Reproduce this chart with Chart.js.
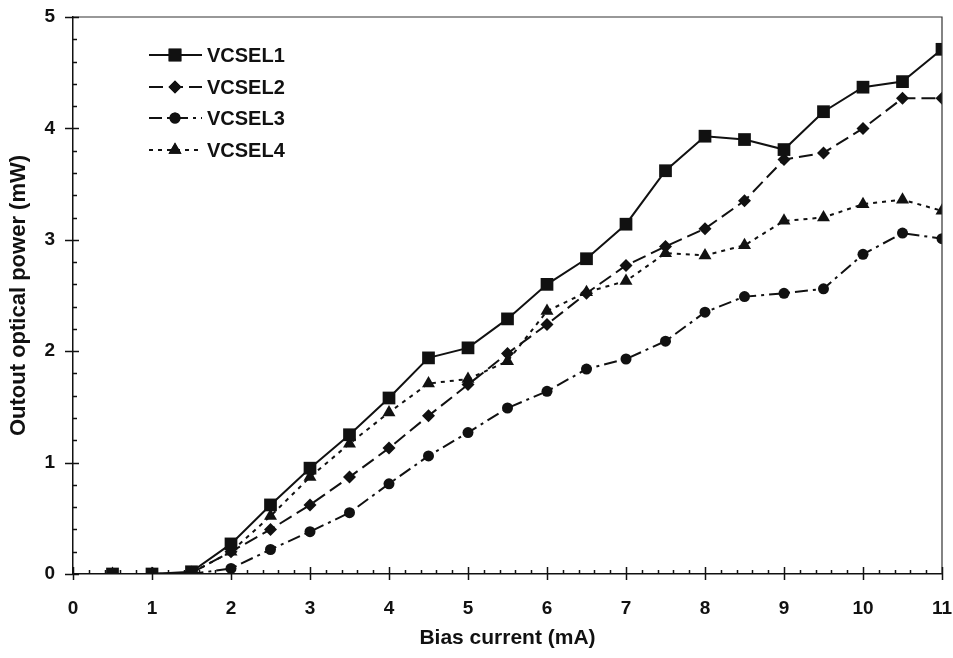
<!DOCTYPE html>
<html>
<head>
<meta charset="utf-8">
<script src="https://cdn.jsdelivr.net/npm/chart.js@4/dist/chart.umd.min.js"></script>
<style>
  html, body { margin: 0; padding: 0; background: #fff; }
  #wrap { width: 953px; height: 658px; }
</style>
</head>
<body>
<div id="wrap"><canvas id="powerChart" width="953" height="658"></canvas></div>
<script>
// Bias current (mA) points
const bias = [0.5, 1, 1.5, 2, 2.5, 3, 3.5, 4, 4.5, 5, 5.5, 6, 6.5, 7, 7.5, 8, 8.5, 9, 9.5, 10, 10.5, 11];

// Output optical power (mW)
const vcsel1 = [0, 0, 0.02, 0.27, 0.62, 0.95, 1.25, 1.58, 1.94, 2.03, 2.29, 2.6, 2.83, 3.14, 3.62, 3.93, 3.9, 3.81, 4.15, 4.37, 4.42, 4.71];
const vcsel2 = [0, 0, 0.01, 0.2, 0.4, 0.62, 0.87, 1.13, 1.42, 1.7, 1.98, 2.24, 2.52, 2.77, 2.94, 3.1, 3.35, 3.72, 3.78, 4.0, 4.27, 4.27];
const vcsel3 = [0, 0, 0, 0.05, 0.22, 0.38, 0.55, 0.81, 1.06, 1.27, 1.49, 1.64, 1.84, 1.93, 2.09, 2.35, 2.49, 2.52, 2.56, 2.87, 3.06, 3.01];
const vcsel4 = [0, 0, 0.01, 0.2, 0.52, 0.87, 1.17, 1.45, 1.71, 1.75, 1.91, 2.36, 2.53, 2.63, 2.88, 2.86, 2.95, 3.17, 3.2, 3.32, 3.36, 3.26];

const seriesNames = ['VCSEL1', 'VCSEL2', 'VCSEL3', 'VCSEL4'];
const seriesData = [vcsel1, vcsel2, vcsel3, vcsel4];

const xTicks = [0, 1, 2, 3, 4, 5, 6, 7, 8, 9, 10, 11];
const yTicks = [0, 1, 2, 3, 4, 5];

const styles = [
  { pointStyle: 'rect', radius: 9, dash: [] },
  { pointStyle: 'rectRot', radius: 6.5, dash: [14, 6] },
  { pointStyle: 'circle', radius: 5.5, dash: [13, 5, 3, 5] },
  { pointStyle: 'triangle', radius: 7.5, dash: [4, 5] }
];

const FONT = "'Liberation Sans', Arial, sans-serif";

const datasets = seriesNames.map((name, i) => ({
  label: name,
  data: bias.map((b, j) => ({ x: b, y: seriesData[i][j] })),
  borderColor: '#111',
  backgroundColor: '#111',
  borderWidth: 2,
  borderDash: styles[i].dash,
  pointStyle: styles[i].pointStyle,
  pointRadius: styles[i].radius,
  pointBorderWidth: 0,
  tension: 0,
  fill: false
}));

// frame + tick marks (major & minor), drawn from the scales
const frameTicks = {
  id: 'frameTicks',
  afterDraw(chart) {
    const { ctx, chartArea: a, scales } = chart;
    const xs = scales.x, ys = scales.y;
    ctx.save();
    ctx.strokeStyle = '#333';
    ctx.lineWidth = 1.2;
    ctx.beginPath();
    ctx.moveTo(a.left, a.top); ctx.lineTo(a.right, a.top); ctx.lineTo(a.right, a.bottom);
    ctx.stroke();
    ctx.strokeStyle = '#111';
    ctx.lineWidth = 1.5;
    ctx.beginPath();
    for (let v = 0; v <= 55; v++) {
      const px = Math.round(xs.getPixelForValue(v / 5)) + 0.5;
      if (v % 5 === 0) { ctx.moveTo(px, a.bottom + 6); ctx.lineTo(px, a.bottom - 7); }
      else { ctx.moveTo(px, a.bottom); ctx.lineTo(px, a.bottom - 4); }
    }
    for (let v = 0; v <= 25; v++) {
      const py = Math.round(ys.getPixelForValue(v / 5)) + 0.5;
      if (v % 5 === 0) { ctx.moveTo(a.left - 8, py); ctx.lineTo(a.left + 6, py); }
      else { ctx.moveTo(a.left, py); ctx.lineTo(a.left + 4, py); }
    }
    ctx.stroke();
    ctx.restore();
  }
};

// legend with line sample and marker in the middle
const sampleLegend = {
  id: 'sampleLegend',
  afterDatasetsDraw(chart) {
    const { ctx } = chart;
    const x0 = 149, x1 = 202, xm = 175, tx = 207;
    const rows = [55, 87, 118, 150];
    ctx.save();
    chart.data.datasets.forEach((ds, i) => {
      const y = rows[i];
      ctx.strokeStyle = '#111';
      ctx.lineWidth = 2;
      ctx.setLineDash(ds.borderDash);
      ctx.beginPath();
      ctx.moveTo(x0, y); ctx.lineTo(x1, y);
      ctx.stroke();
      ctx.setLineDash([]);
      ctx.fillStyle = '#111';
      Chart.helpers.drawPoint(ctx, { pointStyle: ds.pointStyle, radius: ds.pointRadius, borderWidth: 0, rotation: 0 }, xm, y);
      ctx.fill();
      ctx.font = 'bold 20px ' + FONT;
      ctx.textBaseline = 'middle';
      ctx.textAlign = 'left';
      ctx.fillText(ds.label, tx, y + 1);
    });
    ctx.restore();
  }
};

new Chart(document.getElementById('powerChart'), {
  type: 'line',
  data: { datasets },
  plugins: [frameTicks, sampleLegend],
  options: {
    responsive: false,
    animation: false,
    layout: { autoPadding: false, padding: { left: 0, top: 17, right: 11, bottom: 0 } },
    plugins: { legend: { display: false }, tooltip: { enabled: false } },
    scales: {
      x: {
        type: 'linear',
        min: 0, max: 11,
        afterBuildTicks: s => { s.ticks = xTicks.map(v => ({ value: v })); },
        afterFit: s => { s.height = 84; s.paddingLeft = 0; s.paddingRight = 0; },
        grid: { display: false },
        border: { display: true, color: '#111', width: 1.5 },
        ticks: { color: '#111', padding: 15, font: { family: FONT, size: 19, weight: 'bold' }, maxRotation: 0 },
        title: { display: true, text: 'Bias current (mA)', color: '#111', padding: 7, font: { family: FONT, size: 21, weight: 'bold' } }
      },
      y: {
        min: 0, max: 5,
        afterBuildTicks: s => { s.ticks = yTicks.map(v => ({ value: v })); },
        afterFit: s => { s.width = 73; s.paddingTop = 0; s.paddingBottom = 0; },
        grid: { display: false },
        border: { display: true, color: '#111', width: 1.5 },
        ticks: { color: '#111', padding: 10, font: { family: FONT, size: 19, weight: 'bold' } },
        title: { display: true, text: 'Outout optical power (mW)', color: '#111', padding: 6, font: { family: FONT, size: 22, weight: 'bold' } }
      }
    }
  }
});
</script>
</body>
</html>
